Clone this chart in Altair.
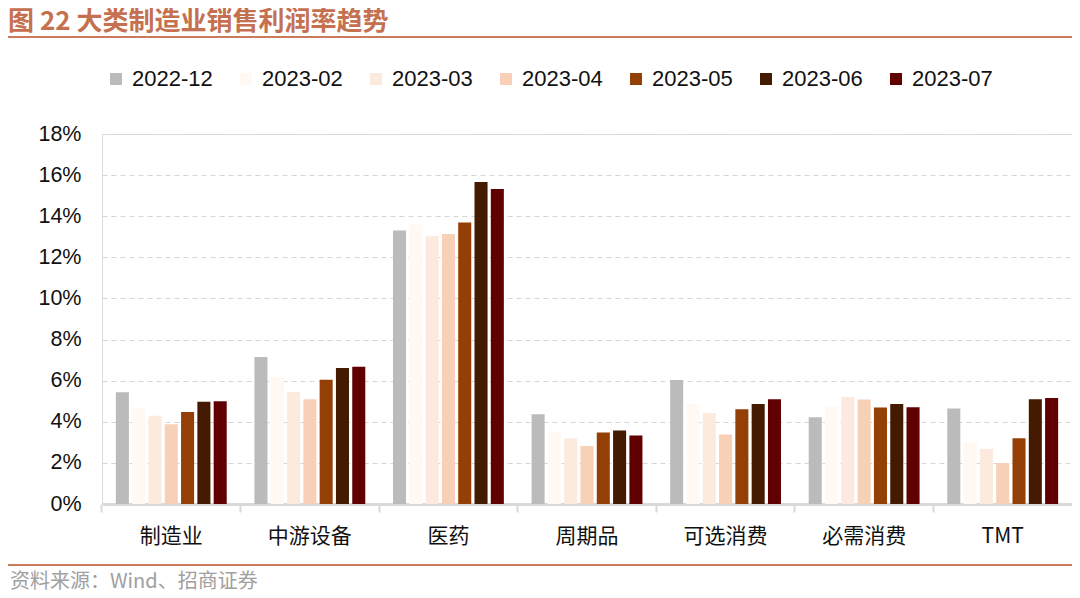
import altair as alt
import pandas as pd

categories = ["制造业", "中游设备", "医药", "周期品", "可选消费", "必需消费", "TMT"]
periods = ["2022-12", "2023-02", "2023-03", "2023-04", "2023-05", "2023-06", "2023-07"]
colors = ["#BBBBBB", "#FFF8F3", "#FCEADF", "#F8D0B7", "#943F05", "#441A00", "#600000"]

s2212 = [5.44, 7.15, 13.30, 4.37, 6.03, 4.22, 4.65]
s2302 = [4.66, 6.18, 13.60, 3.48, 4.87, 4.76, 3.02]
s2303 = [4.29, 5.45, 13.02, 3.20, 4.43, 5.20, 2.68]
s2304 = [3.88, 5.10, 13.14, 2.82, 3.38, 5.08, 1.99]
s2305 = [4.47, 6.05, 13.70, 3.48, 4.61, 4.69, 3.20]
s2306 = [4.98, 6.62, 15.67, 3.58, 4.87, 4.87, 5.10]
s2307 = [5.00, 6.68, 15.33, 3.33, 5.10, 4.71, 5.16]
y_ticks = [0, 2, 4, 6, 8, 10, 12, 14, 16, 18]

title_text = "图 22 大类制造业销售利润率趋势"
source_text = "资料来源：Wind、招商证券"

series = [s2212, s2302, s2303, s2304, s2305, s2306, s2307]
rows = []
for p, vals in zip(periods, series):
    for c, v in zip(categories, vals):
        rows.append({"category": c, "period": p, "value": v})
df = pd.DataFrame(rows)

W, H = 970, 370

bars = alt.Chart(df).mark_bar().encode(
    x=alt.X("category:N", sort=categories,
            scale=alt.Scale(paddingInner=0, paddingOuter=0),
            axis=alt.Axis(title=None, bandPosition=0,
                          labelAngle=0, labelFont="Noto Sans CJK SC",
                          labelFontSize=21, labelColor="#111111",
                          labelPadding=13, domainColor="#D9D9D9",
                          domainWidth=3, tickColor="#D9D9D9", tickWidth=2,
                          tickSize=8, grid=False)),
    xOffset=alt.XOffset("period:N", sort=periods,
                        scale=alt.Scale(paddingInner=0.2, paddingOuter=0.85)),
    y=alt.Y("value:Q", scale=alt.Scale(domain=[0, 18], nice=False),
            axis=alt.Axis(title=None, values=y_ticks,
                          labelExpr="datum.value + '%'",
                          labelFont="Liberation Sans", labelFontSize=21.5,
                          labelColor="#111111", ticks=False, domain=False,
                          labelPadding=21, grid=True, gridColor="#D6D6D6",
                          gridDash=[5, 4], gridWidth=1.2)),
    color=alt.Color("period:N", sort=periods,
                    scale=alt.Scale(domain=periods, range=colors),
                    legend=alt.Legend(title=None, orient="none", legendX=3,
                                      legendY=-66, direction="horizontal",
                                      symbolType="square", symbolSize=144,
                                      symbolStrokeWidth=0, labelFontSize=22,
                                      labelFont="Liberation Sans",
                                      labelColor="#111111", labelOffset=5,
                                      columnPadding=22)),
)

one = pd.DataFrame({"t": [title_text]})
title = alt.Chart(one).mark_text(
    align="left", baseline="middle", font="Noto Sans CJK SC",
    fontSize=26, fontWeight="bold", color="#C5704F"
).encode(text="t:N", x=alt.value(-94), y=alt.value(-112))

title_line = alt.Chart(one).mark_rule(color="#CB7A5A", strokeWidth=2).encode(
    x=alt.value(-94), x2=alt.value(W), y=alt.value(-97))

src = pd.DataFrame({"t": [source_text]})
source = alt.Chart(src).mark_text(
    align="left", baseline="middle", font="Noto Sans CJK SC",
    fontSize=20, color="#A0A0A0"
).encode(text="t:N", x=alt.value(-92), y=alt.value(448))

source_line = alt.Chart(one).mark_rule(color="#CB7A5A", strokeWidth=2).encode(
    x=alt.value(-94), x2=alt.value(W), y=alt.value(431))

chart = alt.layer(bars, title, title_line, source_line, source).properties(
    width=W, height=H,
    autosize=alt.AutoSizeParams(type="none"),
    padding={"left": 94, "top": 126, "right": 0, "bottom": 94},
).configure_view(stroke=None).configure(background="white")

chart.save("out.html", embed_options={"renderer": "svg", "actions": False})
